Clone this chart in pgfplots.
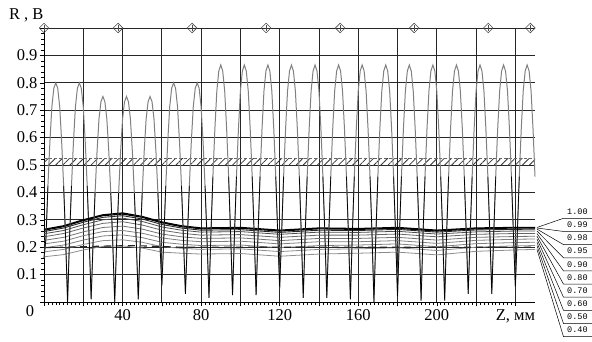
\documentclass[border=0pt]{standalone}
\usepackage{fontspec}
\setmainfont{Liberation Serif}
\newfontfamily\legmono{Liberation Mono}
\usepackage{pgfplots}
\pgfplotsset{compat=1.18}
\usepackage{pgfplotstable}
\usetikzlibrary{patterns.meta}

\pgfplotstableread[row sep=\\]{
x y\\
0 .16\\ 1 .232\\ 2 .424\\ 3 .584\\ 4 .712\\ 5 .780\\ 6 .800\\ 7 .780\\ 8 .712\\ 9 .584\\ 10 .424\\ 11 .232\\
12 0\\ 13 .232\\ 14 .424\\ 15 .584\\ 16 .712\\ 17 .780\\ 18 .800\\ 19 .780\\ 20 .712\\ 21 .584\\ 22 .424\\ 23 .232\\
24 .01\\ 25 .218\\ 26 .398\\ 27 .548\\ 28 .668\\ 29 .731\\ 30 .750\\ 31 .731\\ 32 .668\\ 33 .548\\ 34 .398\\ 35 .218\\
36 0\\ 37 .218\\ 38 .398\\ 39 .548\\ 40 .668\\ 41 .731\\ 42 .750\\ 43 .731\\ 44 .668\\ 45 .548\\ 46 .398\\ 47 .218\\
48 .01\\ 49 .218\\ 50 .398\\ 51 .548\\ 52 .668\\ 53 .731\\ 54 .750\\ 55 .731\\ 56 .668\\ 57 .548\\ 58 .398\\ 59 .218\\
60 .06\\ 61 .232\\ 62 .424\\ 63 .584\\ 64 .712\\ 65 .780\\ 66 .800\\ 67 .780\\ 68 .712\\ 69 .584\\ 70 .424\\ 71 .232\\
72 .03\\ 73 .232\\ 74 .424\\ 75 .584\\ 76 .712\\ 77 .780\\ 78 .800\\ 79 .780\\ 80 .712\\ 81 .584\\ 82 .424\\ 83 .232\\
84 .015\\ 85 .251\\ 86 .458\\ 87 .631\\ 88 .770\\ 89 .843\\ 90 .865\\ 91 .843\\ 92 .770\\ 93 .631\\ 94 .458\\ 95 .251\\
96 .025\\ 97 .251\\ 98 .458\\ 99 .631\\ 100 .770\\ 101 .843\\ 102 .865\\ 103 .843\\ 104 .770\\ 105 .631\\ 106 .458\\ 107 .251\\
108 .025\\ 109 .251\\ 110 .458\\ 111 .631\\ 112 .770\\ 113 .843\\ 114 .865\\ 115 .843\\ 116 .770\\ 117 .631\\ 118 .458\\ 119 .251\\
120 .05\\ 121 .251\\ 122 .458\\ 123 .631\\ 124 .770\\ 125 .843\\ 126 .865\\ 127 .843\\ 128 .770\\ 129 .631\\ 130 .458\\ 131 .251\\
132 .015\\ 133 .251\\ 134 .458\\ 135 .631\\ 136 .770\\ 137 .843\\ 138 .865\\ 139 .843\\ 140 .770\\ 141 .631\\ 142 .458\\ 143 .251\\
144 .015\\ 145 .251\\ 146 .458\\ 147 .631\\ 148 .770\\ 149 .843\\ 150 .865\\ 151 .843\\ 152 .770\\ 153 .631\\ 154 .458\\ 155 .251\\
156 .01\\ 157 .251\\ 158 .458\\ 159 .631\\ 160 .770\\ 161 .843\\ 162 .865\\ 163 .843\\ 164 .770\\ 165 .631\\ 166 .458\\ 167 .251\\
168 0\\ 169 .251\\ 170 .458\\ 171 .631\\ 172 .770\\ 173 .843\\ 174 .865\\ 175 .843\\ 176 .770\\ 177 .631\\ 178 .458\\ 179 .251\\
180 .02\\ 181 .251\\ 182 .458\\ 183 .631\\ 184 .770\\ 185 .843\\ 186 .865\\ 187 .843\\ 188 .770\\ 189 .631\\ 190 .458\\ 191 .251\\
192 .005\\ 193 .251\\ 194 .458\\ 195 .631\\ 196 .770\\ 197 .843\\ 198 .865\\ 199 .843\\ 200 .770\\ 201 .631\\ 202 .458\\ 203 .251\\
204 .005\\ 205 .251\\ 206 .458\\ 207 .631\\ 208 .770\\ 209 .843\\ 210 .865\\ 211 .843\\ 212 .770\\ 213 .631\\ 214 .458\\ 215 .251\\
216 .03\\ 217 .251\\ 218 .458\\ 219 .631\\ 220 .770\\ 221 .843\\ 222 .865\\ 223 .843\\ 224 .770\\ 225 .631\\ 226 .458\\ 227 .251\\
228 .03\\ 229 .251\\ 230 .458\\ 231 .631\\ 232 .770\\ 233 .843\\ 234 .865\\ 235 .843\\ 236 .770\\ 237 .631\\ 238 .458\\ 239 .251\\
240 .055\\ 241 .251\\ 242 .458\\ 243 .631\\ 244 .770\\ 245 .843\\ 246 .865\\ 247 .843\\ 248 .770\\ 249 .631\\ 250 .458\\
}\curve

\pgfplotstableread[row sep=\\]{
x a b c d e f g h i j\\
0 .265 .262 .257 .249 .238 .225 .212 .198 .183 .165\\
10 .278 .275 .270 .261 .250 .236 .222 .208 .192 .173\\
20 .300 .297 .291 .282 .270 .256 .242 .226 .210 .190\\
30 .318 .315 .309 .300 .287 .272 .257 .241 .224 .203\\
40 .325 .321 .315 .306 .293 .277 .261 .245 .227 .205\\
50 .312 .309 .303 .294 .281 .266 .251 .235 .218 .197\\
60 .292 .289 .283 .274 .262 .248 .234 .218 .202 .182\\
70 .278 .275 .270 .262 .251 .238 .225 .211 .196 .178\\
80 .270 .267 .262 .255 .244 .232 .220 .206 .192 .175\\
100 .272 .269 .264 .257 .246 .234 .222 .208 .194 .177\\
120 .262 .259 .254 .247 .236 .224 .212 .198 .184 .167\\
140 .270 .267 .262 .255 .244 .232 .220 .206 .192 .175\\
160 .268 .265 .261 .254 .244 .232 .220 .208 .194 .178\\
180 .272 .269 .265 .258 .248 .236 .224 .212 .198 .182\\
200 .262 .259 .255 .248 .238 .226 .214 .202 .188 .172\\
220 .270 .267 .263 .256 .247 .236 .225 .213 .200 .185\\
240 .272 .270 .265 .259 .250 .239 .229 .217 .205 .190\\
250 .272 .270 .266 .259 .250 .240 .230 .218 .206 .192\\
}\bundle

\begin{document}
\begin{tikzpicture}
\begin{axis}[
  scale only axis, width=491pt, height=274pt,
  xmin=0, xmax=250, ymin=0, ymax=1,
  axis x line*=bottom, axis y line*=left,
  axis line style={-, black, line width=0.8pt},
  xtick={0,20,...,240},
  xticklabels={,,40,,80,,120,,160,,200,,{Z, мм}},
  ytick={0,0.1,0.2,0.3,0.4,0.5,0.6,0.7,0.8,0.9,1},
  yticklabels={,0.1,0.2,0.3,0.4,0.5,0.6,0.7,0.8,0.9,},
  minor x tick num=9, minor y tick num=4,
  tick align=outside, major tick length=4pt, minor tick length=3pt,
  tick style={black, line width=0.5pt},
  grid=major, major grid style={black!85, line width=0.7pt},
  /pgf/number format/assume math mode=true,
  ticklabel style={font=\fontsize{16.5}{16.5}\selectfont},
  yticklabel style={xshift=1pt},
  extra x ticks={0}, extra x tick labels={0},
  extra x tick style={grid=none, major tick length=0pt, xticklabel style={xshift=-14pt}},
  clip=false,
]
% hatched band
\addplot[draw=none, pattern={Lines[angle=45, distance=5pt, line width=0.8pt]}, pattern color=black!80]
  coordinates {(0,0.5) (250,0.5) (250,0.525) (0,0.525)} -- cycle;
\addplot[black!60, line width=0.5pt, dash pattern=on 3pt off 2pt] coordinates {(0,0.525) (250,0.525)};
% bundle
\addplot[black!45, line width=0.8pt] table[x=x,y=j]{\bundle};
\addplot[black!45, line width=0.8pt] table[x=x,y=i]{\bundle};
\addplot[black!50, line width=0.8pt] table[x=x,y=h]{\bundle};
\addplot[black!50, line width=0.8pt] table[x=x,y=g]{\bundle};
\addplot[black!55, line width=0.8pt] table[x=x,y=f]{\bundle};
\addplot[black!60, line width=0.8pt] table[x=x,y=e]{\bundle};
\addplot[black!70, line width=0.8pt] table[x=x,y=d]{\bundle};
\addplot[black!85, line width=0.9pt] table[x=x,y=c]{\bundle};
\addplot[black, line width=1.1pt] table[x=x,y=b]{\bundle};
\addplot[black, line width=1.3pt] table[x=x,y=a]{\bundle};
% dashed line
\addplot[black!85, line width=1.1pt, dash pattern=on 7pt off 5pt] coordinates {(0,0.198) (30,0.204) (45,0.206) (70,0.2) (250,0.2)};
% signal
\addplot[black!50, line width=1pt] table[x=x,y=y]{\curve};
\addplot[black, line width=0.7pt, restrict y to domain=-1:0.46, unbounded coords=jump] table[x=x,y=y]{\curve};
% markers at top
\addplot[only marks, mark=square, mark size=3.4pt, black!70, line width=0.6pt, every mark/.append style={rotate=45}]
  coordinates {(0,1) (37.7,1) (75.4,1) (113.1,1) (150.8,1) (188.5,1) (226.2,1) (247.6,1)};
\addplot[only marks, mark=|, mark size=3pt, black!70, line width=0.6pt]
  coordinates {(0,1) (37.7,1) (75.4,1) (113.1,1) (150.8,1) (188.5,1) (226.2,1) (247.6,1)};
% axis title
\node[font=\fontsize{16.5}{16.5}\selectfont] at (axis cs:-9,1.047) {R , В};
% legend leaders
\draw[black, line width=0.5pt] (axis cs:251,.272) -- (axis cs:264.5,.3055) -- (axis cs:279,.3055);
\draw[black, line width=0.5pt] (axis cs:251,.270) -- (axis cs:264.5,.2575) -- (axis cs:279,.2575);
\draw[black, line width=0.5pt] (axis cs:251,.266) -- (axis cs:264.5,.2095) -- (axis cs:279,.2095);
\draw[black, line width=0.5pt] (axis cs:251,.259) -- (axis cs:264.5,.1615) -- (axis cs:279,.1615);
\draw[black, line width=0.5pt] (axis cs:251,.250) -- (axis cs:264.5,.1135) -- (axis cs:279,.1135);
\draw[black, line width=0.5pt] (axis cs:251,.240) -- (axis cs:264.5,.0655) -- (axis cs:279,.0655);
\draw[black, line width=0.5pt] (axis cs:251,.230) -- (axis cs:264.5,.0175) -- (axis cs:279,.0175);
\draw[black, line width=0.5pt] (axis cs:251,.218) -- (axis cs:264.5,-.0305) -- (axis cs:279,-.0305);
\draw[black, line width=0.5pt] (axis cs:251,.206) -- (axis cs:264.5,-.0785) -- (axis cs:279,-.0785);
\draw[black, line width=0.5pt] (axis cs:251,.192) -- (axis cs:264.5,-.1265) -- (axis cs:279,-.1265);
\draw[black, line width=0.5pt] (axis cs:279,-.1265) -- (axis cs:279,.3055);
\begin{scope}[every node/.style={font=\legmono\fontsize{8.5}{8.5}\selectfont, inner sep=0pt}]
\node at (axis cs:271.6,.3295) {1.00};
\node at (axis cs:271.6,.2815) {0.99};
\node at (axis cs:271.6,.2335) {0.98};
\node at (axis cs:271.6,.1855) {0.95};
\node at (axis cs:271.6,.1375) {0.90};
\node at (axis cs:271.6,.0895) {0.80};
\node at (axis cs:271.6,.0415) {0.70};
\node at (axis cs:271.6,-.0065) {0.60};
\node at (axis cs:271.6,-.0545) {0.50};
\node at (axis cs:271.6,-.1025) {0.40};
\end{scope}
\end{axis}
\pgfresetboundingbox
\path[use as bounding box] (-44pt,-39pt) rectangle (548pt,302pt);
\end{tikzpicture}
\end{document}
